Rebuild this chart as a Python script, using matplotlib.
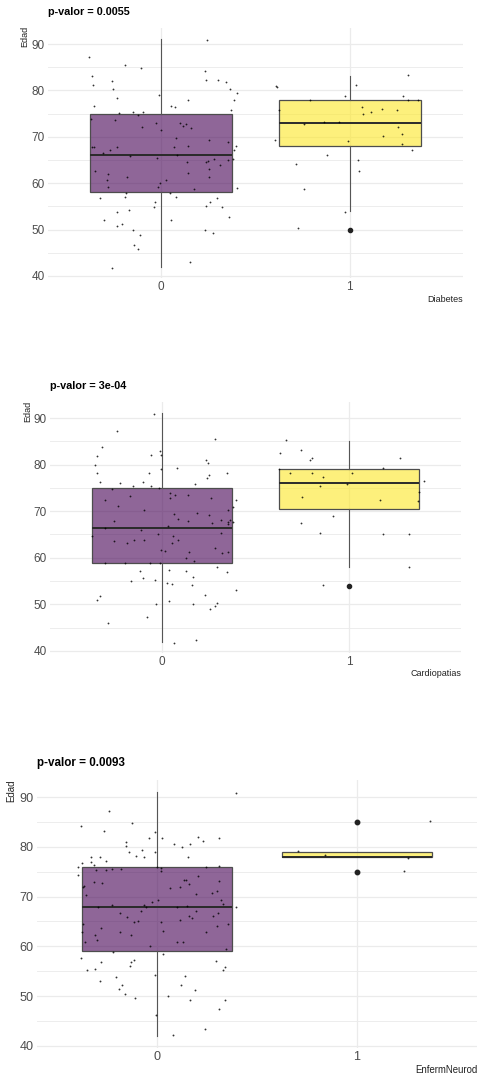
import matplotlib
matplotlib.use("Agg")
import matplotlib.pyplot as plt
import numpy as np

plt.rcParams['font.family'] = ['Liberation Sans', 'DejaVu Sans']

# ---------------- data ----------------
titles = ["p-valor = 0.0055", "p-valor = 3e-04", "p-valor = 0.0093"]
xlabels = ["Diabetes", "Cardiopatias", "EnfermNeurod"]
ylabel = "Edad"
groups = ["0", "1"]
yticks = [40, 50, 60, 70, 80, 90]

# box statistics per panel: [group 0, group 1]
q1 = [[58, 68], [58.8, 70.5], [59, 78]]
med = [[66, 73], [66.5, 76], [68, 78]]
q3 = [[75, 78], [75, 79], [76, 79]]
whislo = [[42, 54], [42, 58], [42, 78]]
whishi = [[91, 83], [91, 85], [91, 79]]
fliers = [[[], [50]], [[], [54]], [[], [75, 85]]]

# jittered points: (offset from group centre, Edad)
p1_g0 = [(-0.385,87.3),(-0.365,83.1),(-0.362,81.2),(-0.358,76.7),(-0.37,73.9),(-0.369,67.7),(-0.356,67.7),
         (-0.351,62.7),(-0.324,56.9),(-0.303,52.0),(-0.261,41.7),(-0.259,82.0),(-0.257,80.3),(-0.232,78.4),
         (-0.246,73.7),(-0.222,75.2),(-0.307,66.6),(-0.271,67.2),(-0.232,67.7),(-0.287,60.7),(-0.28,62.0),
         (-0.28,59.2),(-0.236,53.8),(-0.234,50.8),(-0.206,51.3),(-0.191,57.1),(-0.184,57.8),(-0.183,61.3),
         (-0.172,54.3),(-0.19,85.5),(-0.167,65.9),(-0.152,75.4),(-0.149,49.8),(-0.145,46.7),(-0.124,45.7),
         (-0.121,74.7),(-0.112,48.8),(-0.106,84.8),(-0.103,72.0),(-0.099,75.3),(-0.027,72.9),(-0.020,65.4),
         (-0.034,55.9),(-0.037,54.9),(-0.018,59.2),(-0.014,79.1),(0.0,71.4),(-0.004,60.1),(0.023,60.7),
         (0.048,57.9),(0.053,52.1),(0.051,76.7),(0.071,76.4),(0.069,67.8),(0.076,69.7),(0.076,57.1),
         (0.083,66.0),(0.098,72.9),(0.117,72.4),(0.131,72.8),(0.140,77.9),(0.137,64.5),(0.140,62.2),
         (0.144,68.1),(0.151,42.9),(0.158,71.8),(0.172,58.8),(0.234,84.2),(0.239,82.3),(0.245,90.9),
         (0.230,50.0),(0.239,55.1),(0.239,64.5),(0.246,64.7),(0.252,69.3),(0.255,63.0),(0.255,61.4),
         (0.257,55.9),(0.273,49.2),(0.280,65.3),(0.298,56.9),(0.300,82.3),(0.310,64.0),(0.323,54.9),
         (0.346,81.8),(0.355,68.8),(0.355,64.9),(0.360,52.6),(0.365,80.4),(0.369,75.7),(0.383,65.1),
         (0.387,77.9),(0.388,67.1),(0.394,68.1),(0.401,58.9),(0.401,79.4)]
p1_g1 = [(-0.390,80.9),(-0.387,80.7),(-0.376,75.8),(-0.394,69.3),(-0.284,64.2),(-0.243,58.8),(-0.273,50.3),
         (-0.209,78.0),(-0.245,72.7),(-0.137,73.2),(-0.06,73.1),(-0.119,66.1),(-0.025,78.8),(-0.012,69.0),
         (-0.023,53.7),(0.032,81.2),(0.043,65.0),(0.05,62.7),(0.067,76.4),(0.071,75.0),(0.11,75.4),
         (0.172,75.9),(0.176,70.1),(0.252,75.7),(0.257,72.2),(0.278,70.6),(0.278,68.4),(0.284,78.8),
         (0.307,83.3),(0.310,78.0),(0.332,67.2),(0.362,78.0)]

p2_g0 = [(-0.349,81.8),(-0.36,80.0),(-0.346,78.1),(-0.324,83.8),(-0.335,76.3),(-0.242,87.3),(-0.308,72.4),
         (-0.373,64.7),(-0.305,66.4),(-0.257,67.9),(-0.255,63.7),(-0.307,58.8),(-0.351,50.9),(-0.333,51.8),
         (-0.289,46.0),(-0.269,74.7),(-0.235,71.1),(-0.223,76.0),(-0.189,63.2),(-0.2,58.9),(-0.171,73.2),
         (-0.157,75.4),(-0.164,55.1),(-0.152,63.9),(-0.119,57.2),(-0.114,66.0),(-0.103,76.3),(-0.098,70.2),
         (-0.098,63.9),(-0.102,55.7),(-0.082,47.3),(-0.071,78.2),(-0.064,58.8),(-0.061,82.1),(-0.059,75.4),
         (-0.039,55.3),(-0.045,90.9),(-0.032,50.0),(-0.020,65.2),(-0.016,74.9),(-0.012,58.9),(-0.009,83.0),
         (-0.007,82.1),(-0.005,79.0),(-0.005,61.7),(0.014,61.4),(0.032,66.8),(0.039,57.4),(0.036,50.8),
         (0.027,54.6),(0.043,73.9),(0.045,72.9),(0.055,54.4),(0.057,64.7),(0.055,63.1),(0.062,69.4),
         (0.066,41.8),(0.078,79.2),(0.071,73.4),(0.084,63.9),(0.087,68.4),(0.127,57.1),(0.130,60.0),
         (0.137,73.4),(0.141,67.9),(0.143,61.2),(0.162,54.1),(0.166,50.0),(0.168,55.9),(0.171,59.4),
         (0.176,75.8),(0.184,42.3),(0.189,69.6),(0.228,51.9),(0.237,80.9),(0.246,80.4),(0.241,77.1),
         (0.25,77.8),(0.251,69.1),(0.255,49.1),(0.262,72.8),(0.267,67.4),(0.282,49.6),(0.282,85.4),
         (0.285,62.2),(0.294,50.2),(0.294,58.1),(0.317,68.1),(0.317,65.3),(0.319,61.0),(0.349,78.1),
         (0.351,70.2),(0.351,67.7),(0.353,67.2),(0.355,61.3),(0.362,68.2),(0.348,57.0),(0.381,71.0),
         (0.381,67.7),(0.394,72.4),(0.394,53.1)]
p2_g1 = [(-0.335,85.2),(-0.369,82.4),(-0.374,79.1),(-0.317,78.2),(-0.255,83.1),(-0.209,80.9),(-0.195,81.4),
         (-0.198,78.2),(-0.25,73.1),(-0.257,67.5),(-0.141,77.4),(-0.154,75.4),(-0.157,65.3),(-0.138,54.2),
         (-0.084,69.0),(-0.009,75.9),(0.014,78.3),(0.164,72.4),(0.182,65.1),(0.185,79.2),(0.276,81.4),
         (0.324,65.0),(0.324,58.1),(0.374,74.2),(0.369,72.1),(0.403,76.4)]

p3_g0 = [(-0.378,84.2),(-0.396,75.9),(-0.393,74.4),(-0.375,76.7),(-0.368,71.9),(-0.363,72.1),(-0.355,70.4),
         (-0.375,62.8),(-0.368,64.5),(-0.361,60.9),(-0.378,57.7),(-0.348,55.2),(-0.331,78.0),(-0.328,76.9),
         (-0.313,76.3),(-0.306,75.4),(-0.316,73.0),(-0.309,62.2),(-0.299,61.2),(-0.294,68.0),(-0.309,55.4),
         (-0.283,77.9),(-0.276,72.8),(-0.281,63.7),(-0.278,56.9),(-0.286,53.0),(-0.266,83.1),(-0.241,87.3),
         (-0.254,77.1),(-0.256,75.3),(-0.226,75.5),(-0.224,68.3),(-0.219,58.9),(-0.207,53.9),(-0.187,66.7),
         (-0.184,62.8),(-0.179,75.6),(-0.177,52.2),(-0.191,51.4),(-0.162,50.5),(-0.156,80.1),(-0.154,81.0),
         (-0.149,65.8),(-0.139,78.9),(-0.130,62.2),(-0.135,56.0),(-0.129,56.8),(-0.117,57.3),(-0.124,84.9),
         (-0.115,64.9),(-0.112,49.7),(-0.107,78.2),(-0.095,65.1),(-0.077,79.4),(-0.080,67.1),(-0.067,68.4),
         (-0.064,78.0),(-0.054,68.0),(-0.042,81.8),(-0.033,60.1),(-0.025,69.0),(-0.012,82.9),(-0.010,79.0),
         (-0.010,54.2),(-0.007,46.1),(0.0,75.9),(0.007,69.3),(0.018,75.1),(0.022,75.8),(0.025,81.7),
         (0.022,64.9),(0.028,63.0),(0.032,58.4),(0.055,50.1),(0.065,71.7),(0.080,42.1),(0.087,80.6),
         (0.099,68.0),(0.099,60.8),(0.114,65.2),(0.114,71.9),(0.122,52.2),(0.127,80.0),(0.129,60.9),
         (0.137,73.3),(0.144,73.3),(0.140,54.0),(0.152,68.2),(0.156,78.0),(0.161,72.6),(0.162,66.0),
         (0.164,49.2),(0.167,80.6),(0.177,65.6),(0.191,51.3),(0.194,70.5),(0.194,67.1),(0.207,74.2),
         (0.206,82.0),(0.229,81.2),(0.242,43.4),(0.244,62.8),(0.247,75.9),(0.276,70.7),(0.278,66.0),
         (0.293,57.1),(0.299,71.1),(0.299,64.0),(0.308,81.8),(0.308,76.2),(0.311,73.1),(0.306,66.8),
         (0.308,47.3),(0.321,69.3),(0.329,55.2),(0.328,68.6),(0.338,55.8),(0.339,49.2),(0.343,59.4),
         (0.355,64.4),(0.396,68.0),(0.395,90.9)]
p3_g1 = [(-0.293,79.2),(-0.159,78.3),(0.254,77.8),(0.234,75.1),(0.365,85.2)]

points = [[p1_g0, p1_g1], [p2_g0, p2_g1], [p3_g0, p3_g1]]

# ---------------- layout (pixels) ----------------
W, H = 478, 1078
fig = plt.figure(figsize=(W / 100, H / 100), dpi=100)
fig.patch.set_facecolor('white')

# left, right, top, bottom in px
boxes_px = [(48, 463, 28, 278), (50, 461, 402, 653), (37, 477, 780, 1048)]
title_y = [12, 386, 763]
xlab_y = [300, 674, 1070]
edad_pos = [(25, 26), (28, 401), (11, 779)]
scale = [1.0, 1.0, 1.07]

fills = ['#440154', '#FDE725']

for i in range(3):
    l, r, t, b = boxes_px[i]
    ax = fig.add_axes([l / W, 1 - b / H, (r - l) / W, (b - t) / H])
    ax.set_xlim(-0.6, 1.6)
    ax.set_ylim(39.55, 93.45)
    for s in ax.spines.values():
        s.set_visible(False)
    ax.set_facecolor('white')
    # grid
    for yv in np.arange(40, 95, 10):
        ax.axhline(yv, color='#EBEBEB', lw=0.9, zorder=0)
    for yv in np.arange(45, 95, 10):
        ax.axhline(yv, color='#EDEDED', lw=0.7, zorder=0)
    for xv in range(len(groups)):
        ax.axvline(xv, color='#EBEBEB', lw=0.9, zorder=0)

    stats = []
    for g in range(2):
        stats.append(dict(med=med[i][g], q1=q1[i][g], q3=q3[i][g],
                          whislo=whislo[i][g], whishi=whishi[i][g],
                          fliers=fliers[i][g]))
    bp = ax.bxp(stats, positions=[0, 1], widths=0.75, patch_artist=True,
                showcaps=False, manage_ticks=False,
                boxprops=dict(edgecolor='#4d4d4d', linewidth=0.9),
                medianprops=dict(color='#2a2a2a', linewidth=1.4),
                whiskerprops=dict(color='#555555', linewidth=0.8),
                flierprops=dict(marker='o', markerfacecolor='#222222',
                                markeredgecolor='#222222', markersize=3.0 * scale[i]))
    for patch, fc in zip(bp['boxes'], fills):
        r_, g_, b_ = matplotlib.colors.to_rgb(fc)
        patch.set_facecolor((r_, g_, b_, 0.6))
    for g in range(2):
        pts = np.array(points[i][g])
        ax.scatter(pts[:, 0] + g, pts[:, 1], s=1.7 * scale[i], color='black',
                   alpha=0.8, linewidths=0, zorder=5)

    ax.set_xticks(range(len(groups)))
    ax.set_xticklabels(groups)
    ax.set_yticks(yticks)
    ax.tick_params(length=0, labelsize=8.5 * scale[i], labelcolor='#4D4D4D', pad=2.5)

    fig.text(l / W, 1 - title_y[i] / H, titles[i], fontsize=7.8 * scale[i],
             fontweight='bold', ha='left', va='center', color='black')
    fig.text(r / W, 1 - xlab_y[i] / H, xlabels[i], fontsize=6.5 * scale[i],
             ha='right', va='center', color='#222222')
    ex, ey = edad_pos[i]
    fig.text(ex / W, 1 - ey / H, ylabel, fontsize=6.5 * scale[i], rotation=90,
             ha='center', va='top', color='#222222')

fig.savefig('out.png', dpi=100, facecolor='white')
